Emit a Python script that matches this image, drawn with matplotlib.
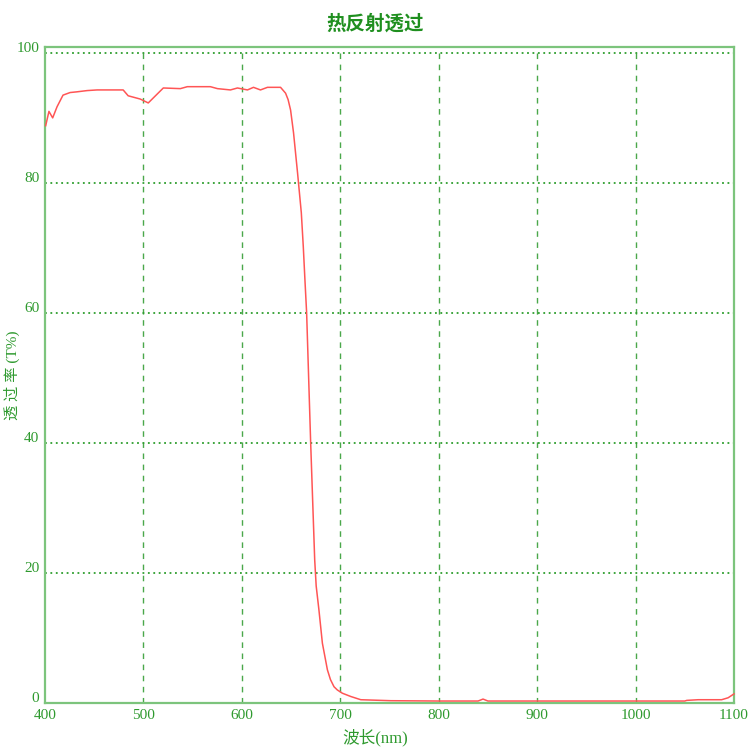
import numpy as np
import matplotlib
matplotlib.use("Agg")
import matplotlib.pyplot as plt
from matplotlib.transforms import ScaledTranslation

# wavelength (nm) and transmittance (%)
wavelength = [400.7, 404, 407.8, 412.2, 418.3, 425.5, 432, 442.8, 453, 479.4,
              484.5, 496.7, 504.9, 520.2, 537.5, 544.6, 568, 575.2, 588.4, 595.5,
              605.7, 611.8, 618.9, 626, 639.3, 644.4, 647, 649.5, 652.5, 656.6,
              660.4, 662.4, 664.1, 665.8, 669.9, 674.0, 675.5, 678.3, 681.8, 686.9,
              690, 693.6, 697, 702.1, 710.6, 720.8, 751.3, 800, 840, 845,
              850, 900, 1000, 1050, 1052, 1063.6, 1087.4, 1094, 1100]
transmission = [88.8, 91.0, 90.0, 91.7, 93.5, 93.9, 94.0, 94.2, 94.3, 94.3,
                93.4, 92.9, 92.3, 94.6, 94.5, 94.8, 94.8, 94.5, 94.3, 94.6,
                94.3, 94.7, 94.3, 94.7, 94.7, 93.8, 92.8, 91.2, 87.7, 81.5,
                75.4, 70.2, 65.0, 60.0, 40.0, 22.0, 18.0, 14.3, 9.2, 5.1,
                3.6, 2.5, 2.0, 1.5, 1.0, 0.5, 0.35, 0.3, 0.3, 0.6,
                0.3, 0.3, 0.3, 0.3, 0.4, 0.5, 0.5, 0.8, 1.4]

x_ticks = [400, 500, 600, 700, 800, 900, 1000, 1100]
y_ticks = [0, 20, 40, 60, 80, 100]

title = "热反射透过"
x_label = "波长(nm)"
y_label = "透 过 率 (T%)"

green = "#2f9a2f"
fonts = ["Liberation Serif", "Noto Sans CJK SC", "DejaVu Sans"]

fig = plt.figure(figsize=(7.5, 7.5), dpi=100)
ax = fig.add_axes([0.06, 0.0627, 0.9187, 0.8746])

ax.plot(wavelength, transmission, color="#ff5555", lw=1.1, zorder=5, clip_on=False)

ax.set_xlim(400, 1100)
ax.set_ylim(0, 100.9)
ax.set_xticks(x_ticks)
ax.set_yticks(y_ticks)
ax.tick_params(length=0, colors=green, labelsize=11, pad=4)
for lab in ax.get_xticklabels() + ax.get_yticklabels():
    lab.set_family(fonts)
# the y labels sit a little above their grid lines
for lab in ax.get_yticklabels():
    lab.set_transform(lab.get_transform() + ScaledTranslation(0, 6 / 100, fig.dpi_scale_trans))

for xv in x_ticks[1:-1]:
    ax.axvline(xv, color="#4aa84a", lw=1, ls=(0, (4, 4)), zorder=1)
for yv in y_ticks[1:]:
    ax.axhline(yv, color="#2e9e2e", lw=1.3, ls=(0, (1, 2)), zorder=1)

for s in ax.spines.values():
    s.set_color("#7cc47c")
    s.set_linewidth(1.6)

fig.text(0.5, 0.968, title, ha="center", va="center", color="#1f8f1f",
         fontsize=14, fontweight="bold", family=["Noto Sans CJK SC"])
fig.text(0.5, 0.016, x_label, ha="center", va="center", color=green,
         fontsize=12, family=fonts)
fig.text(0.016, 0.5, y_label, ha="center", va="center", color=green,
         fontsize=11, rotation=90, family=fonts)

fig.savefig("out.png", dpi=100)
